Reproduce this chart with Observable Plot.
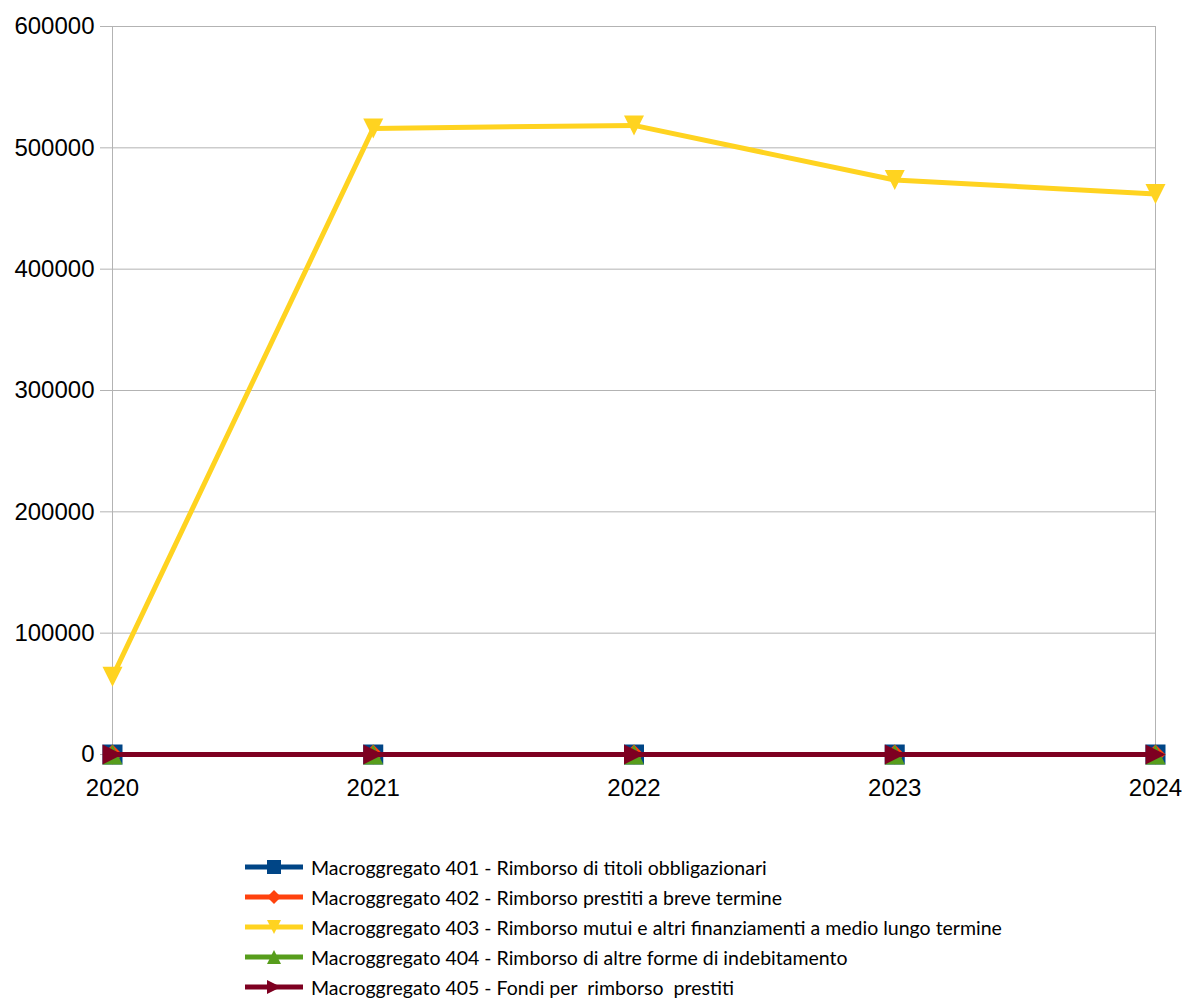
<!DOCTYPE html>
<html>
<head>
<meta charset="utf-8">
<script src="https://cdn.jsdelivr.net/npm/d3@7"></script>
<script src="https://cdn.jsdelivr.net/npm/@observablehq/plot@0.6"></script>
<style>
  html, body { margin: 0; padding: 0; background: #fff; }
  #chart svg { display: block; }
  #legend { margin-left: 245px; margin-top: 22px; font-family: "Lato", sans-serif; font-size: 19.5px; color: #000; }
  .row { height: 30px; display: flex; align-items: center; }
  .row svg { margin-right: 8px; }
</style>
</head>
<body>
<div id="chart"></div>
<div id="legend"></div>
<script>
const years = [2020, 2021, 2022, 2023, 2024];
const seriesNames = [
  "Macroggregato 401 - Rimborso di titoli obbligazionari",
  "Macroggregato 402 - Rimborso prestiti a breve termine",
  "Macroggregato 403 - Rimborso mutui e altri finanziamenti a medio lungo termine",
  "Macroggregato 404 - Rimborso di altre forme di indebitamento",
  "Macroggregato 405 - Fondi per  rimborso  prestiti"
];
const s401 = [0, 0, 0, 0, 0];
const s402 = [0, 0, 0, 0, 0];
const s403 = [64000, 516000, 518500, 473500, 462000];
const s404 = [0, 0, 0, 0, 0];
const s405 = [0, 0, 0, 0, 0];
const colors = ["#004586", "#ff420e", "#ffd320", "#579d1c", "#7e0021"];
const symbolKinds = ["square", "diamond", "down", "up", "right"];
const yTicks = [0, 100000, 200000, 300000, 400000, 500000, 600000];

const allSeries = [s401, s402, s403, s404, s405];

// box-filling symbols (LibreOffice style): size = area of bounding square
function boxSymbol(kind) {
  return {
    draw(ctx, size) {
      const s = Math.sqrt(size) / 2;
      if (kind === "square") { ctx.moveTo(-s, -s); ctx.lineTo(s, -s); ctx.lineTo(s, s); ctx.lineTo(-s, s); }
      else if (kind === "diamond") { ctx.moveTo(0, -s); ctx.lineTo(s, 0); ctx.lineTo(0, s); ctx.lineTo(-s, 0); }
      else if (kind === "down") { ctx.moveTo(-s, -s); ctx.lineTo(s, -s); ctx.lineTo(0, s); }
      else if (kind === "up") { ctx.moveTo(0, -s); ctx.lineTo(s, s); ctx.lineTo(-s, s); }
      else if (kind === "right") { ctx.moveTo(-s, -s); ctx.lineTo(s, 0); ctx.lineTo(-s, s); }
      ctx.closePath();
    }
  };
}
const rFor = px => Math.sqrt(px * px / Math.PI);

const marks = [
  Plot.ruleY(yTicks.slice(1), {stroke: "#b3b3b3", strokeWidth: 1}),
  Plot.ruleX([2020, 2024], {y1: 0, y2: 600000, stroke: "#b3b3b3", strokeWidth: 1}),
  Plot.axisY({ticks: yTicks, tickFormat: d => String(d), tickSize: 12, tickPadding: 6, stroke: "#b3b3b3", fontSize: 24, label: null}),
  Plot.axisX({ticks: years, tickFormat: d => String(d), tickSize: 0, tickPadding: 24, fontSize: 24, label: null})
];
allSeries.forEach((vals, i) => {
  const data = years.map((y, j) => ({year: y, value: vals[j]}));
  const sym = boxSymbol(symbolKinds[i]);
  marks.push(Plot.line(data, {x: "year", y: "value", stroke: colors[i], strokeWidth: 5}));
  marks.push(Plot.dot(data, {x: "year", y: "value", fill: colors[i], stroke: null, symbol: () => sym, r: rFor(20)}));
});

const chart = Plot.plot({
  width: 1182,
  height: 830,
  marginTop: 26,
  marginBottom: 76,
  marginLeft: 112,
  marginRight: 27,
  style: {fontFamily: "'Liberation Sans', Arial, sans-serif", fontSize: "24px", color: "#000", background: "#fff"},
  x: {type: "linear", domain: [2020, 2024]},
  y: {domain: [0, 600000]},
  marks
});
document.getElementById("chart").appendChild(chart);

// legend
const legend = document.getElementById("legend");
seriesNames.forEach((name, i) => {
  const row = document.createElement("div");
  row.className = "row";
  const sw = d3.create("svg").attr("width", 58).attr("height", 20);
  sw.append("line").attr("x1", 0).attr("x2", 58).attr("y1", 10).attr("y2", 10).attr("stroke", colors[i]).attr("stroke-width", 5);
  sw.append("path").attr("d", d3.symbol(boxSymbol(symbolKinds[i]), 14 * 14)())
    .attr("fill", colors[i]).attr("transform", "translate(29,10)");
  row.appendChild(sw.node());
  const t = document.createElement("span");
  t.textContent = name;
  t.style.whiteSpace = "pre";
  row.appendChild(t);
  legend.appendChild(row);
});
</script>
</body>
</html>
